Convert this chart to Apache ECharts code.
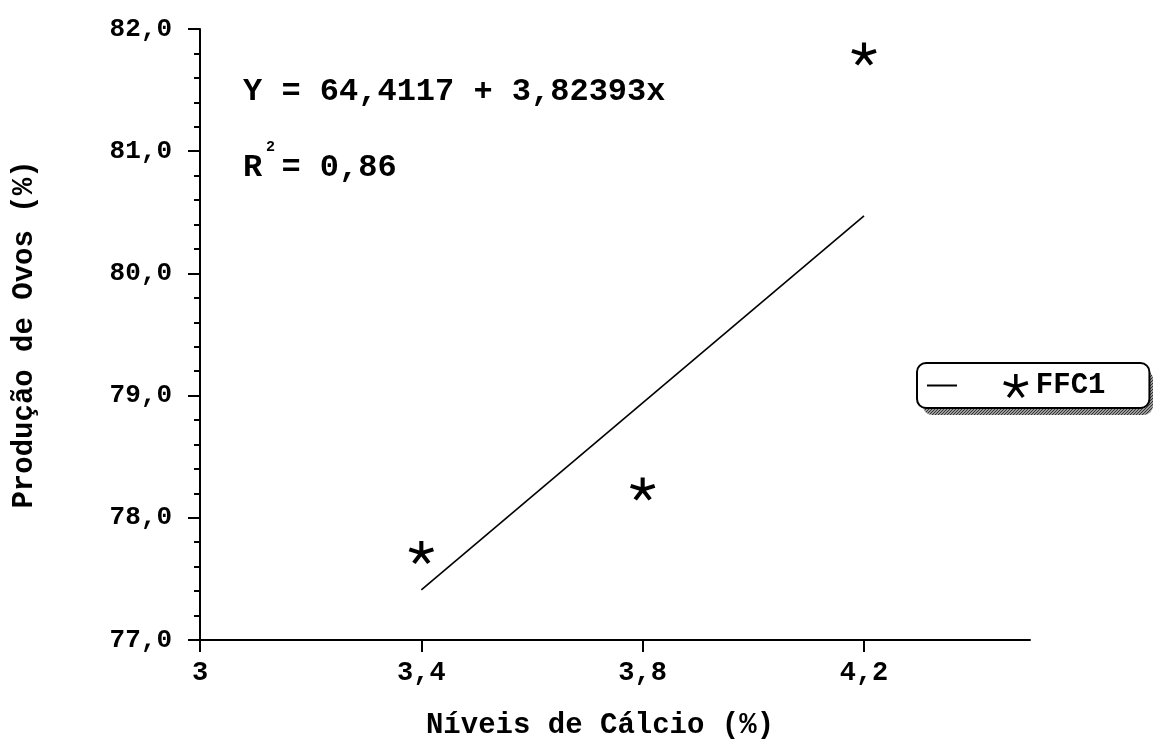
<!DOCTYPE html>
<html>
<head>
<meta charset="utf-8">
<script src="https://cdn.jsdelivr.net/npm/echarts@6/dist/echarts.min.js"></script>
<style>
html,body{margin:0;padding:0;background:#fff;}
#chart{width:1153px;height:748px;}
</style>
</head>
<body>
<div id="chart"></div>
<script>
// Data
const calciumLevels = [3.4, 3.8, 4.2];
const eggProduction = [77.72, 78.24, 81.80];
const fitLevels = [3.4, 4.2];
const fitProduction = [77.41, 80.47];
const xTickValues = [3, 3.4, 3.8, 4.2];
const equationText = 'Y = 64,4117 + 3,82393x';
const r2Text = 'R = 0,86';
const seriesName = 'FFC1';

const FONT = '"Liberation Mono", "Courier New", monospace';
const STAR = 'path://M10 0 L10 10 M10 10 L19.5 6.9 M10 10 L15.9 18.1 M10 10 L4.1 18.1 M10 10 L0.5 6.9';
const DASH = 'path://M0 0 L30 0 L30 2 L0 2 Z';

function fmt(v) { return String(v).replace('.', ','); }

// hatched pattern for the legend shadow
const hatch = document.createElement('canvas');
hatch.width = 3; hatch.height = 3;
(function () {
  const c = hatch.getContext('2d');
  c.fillStyle = '#9a9a9a'; c.fillRect(0, 0, 3, 3);
  c.fillStyle = '#333';
  c.fillRect(0, 2, 1, 1); c.fillRect(1, 1, 1, 1); c.fillRect(2, 0, 1, 1);
})();

const chart = echarts.init(document.getElementById('chart'), null, {renderer: 'canvas'});
chart.setOption({
  animation: false,
  backgroundColor: '#fff',
  grid: {left: 200, right: 123, top: 29, bottom: 108, containLabel: false, outerBoundsMode: 'none'},
  xAxis: {
    type: 'value', min: 3, max: 4.5,
    name: 'Níveis de Cálcio (%)', nameLocation: 'middle', nameGap: 71,
    nameTextStyle: {fontFamily: FONT, fontSize: 29, fontWeight: 'bold', color: '#000', padding: [0, 30, 0, 0]},
    axisLine: {show: true, onZero: false, lineStyle: {color: '#000', width: 2}},
    axisTick: {show: true, length: 12, lineStyle: {color: '#000', width: 2}, customValues: xTickValues},
    axisLabel: {customValues: xTickValues, formatter: v => fmt(v), margin: 20,
      fontFamily: FONT, fontSize: 27, fontWeight: 'bold', color: '#000'},
    splitLine: {show: false}
  },
  yAxis: {
    type: 'value', min: 77, max: 82, interval: 1,
    name: 'Produção de Ovos (%)', nameLocation: 'middle', nameGap: 161, nameRotate: 90,
    nameTextStyle: {fontFamily: FONT, fontSize: 29, fontWeight: 'bold', color: '#000'},
    axisLine: {show: true, onZero: false, lineStyle: {color: '#000', width: 2}},
    axisTick: {show: true, length: 12, lineStyle: {color: '#000', width: 2}},
    minorTick: {show: true, splitNumber: 5, length: 6, lineStyle: {color: '#000', width: 2}},
    axisLabel: {formatter: v => v.toFixed(1).replace('.', ','), margin: 28,
      fontFamily: FONT, fontSize: 26, fontWeight: 'bold', color: '#000'},
    splitLine: {show: false}
  },
  legend: {
    left: 917, top: 363,
    orient: 'horizontal',
    padding: [8, 44, 8, 10],
    itemGap: 45, itemWidth: 30, itemHeight: 23,
    symbolKeepAspect: true,
    backgroundColor: '#fff', borderColor: '#000', borderWidth: 2, borderRadius: 9,
    z: 10,
    data: [
      {name: 'fit', icon: DASH, itemStyle: {color: '#000', borderWidth: 0}},
      {name: seriesName, icon: STAR, itemStyle: {color: '#000', borderColor: '#000', borderWidth: 3.5}}
    ],
    formatter: name => name === seriesName ? seriesName : '',
    textStyle: {fontFamily: FONT, fontSize: 29, fontWeight: 'bold', color: '#000'}
  },
  graphic: [
    {type: 'text', left: 243, top: 76, style: {text: equationText, font: 'bold 32px ' + FONT, fill: '#000'}},
    {type: 'text', left: 243, top: 152, style: {text: r2Text, font: 'bold 32px ' + FONT, fill: '#000'}},
    {type: 'text', left: 266, top: 140, style: {text: '2', font: 'bold 15px ' + FONT, fill: '#000'}},
    {type: 'rect', left: 923, top: 370, z: 1, shape: {width: 230, height: 45, r: 9},
      style: {fill: {image: hatch, repeat: 'repeat'}}}
  ],
  series: [
    {
      name: 'fit', type: 'line', symbol: 'none',
      data: fitLevels.map((x, i) => [x, fitProduction[i]]),
      lineStyle: {color: '#000', width: 1.6}, itemStyle: {color: '#000'}, z: 2
    },
    {
      name: seriesName, type: 'scatter', symbol: STAR, symbolSize: [24, 23], symbolKeepAspect: true,
      data: calciumLevels.map((x, i) => [x, eggProduction[i]]),
      itemStyle: {color: '#000', borderColor: '#000', borderWidth: 4, opacity: 1}, z: 3
    }
  ]
});
</script>
</body>
</html>
